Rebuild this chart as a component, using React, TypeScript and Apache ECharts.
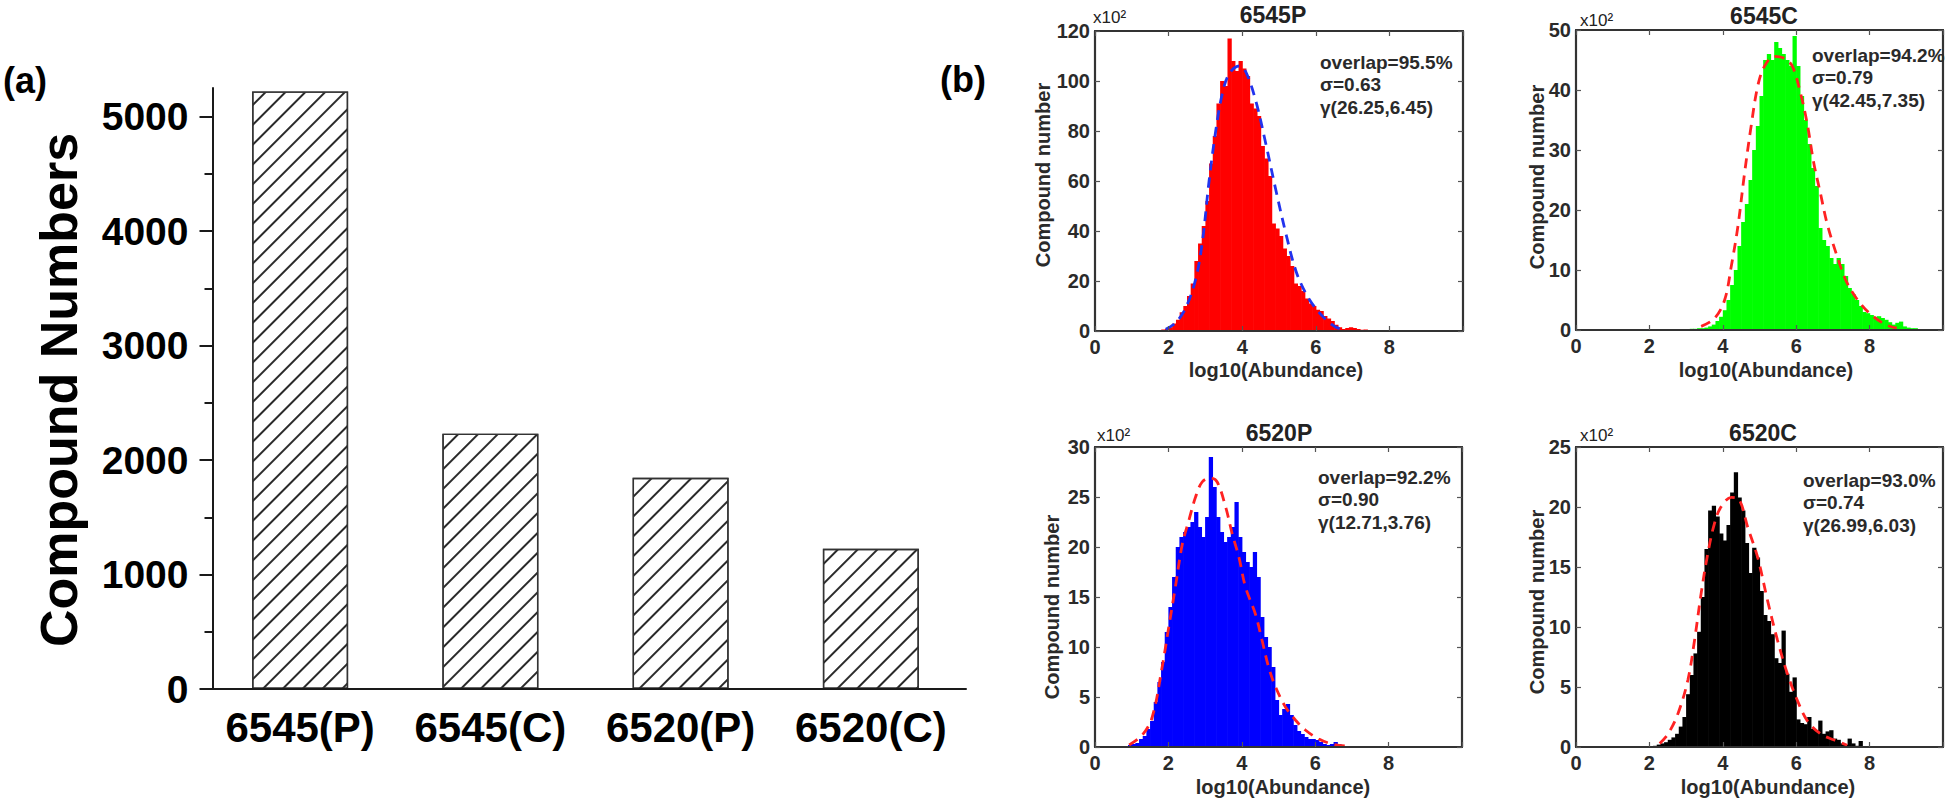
import React, { useEffect, useRef } from 'react';
import * as echarts from 'echarts';

const FONT = '"Liberation Sans", Arial, Helvetica, sans-serif';

// ---------- Panel (a) data ----------
const barCategories = ['6545(P)', '6545(C)', '6520(P)', '6520(C)'];
const barValues = [5220, 2230, 1845, 1225];
const barMajorTicks = [0, 1000, 2000, 3000, 4000, 5000];
const barMinorTicks = [500, 1500, 2500, 3500, 4500];

// ---------- Panel (b) data (counts in units of x10^2, bin width 0.1) ----------
const BIN = 0.1;
const hist6545PStart = 1.7;
const hist6545P = [
  0.3, 0.6, 0.8, 1.5, 3.0, 4.5, 7.5, 10, 14, 19,
  28, 35, 42, 52, 67, 78, 91, 100, 98, 117,
  108, 104, 108, 105, 102, 91, 89, 86, 74, 69,
  62, 43, 41, 38, 33, 30, 26, 19, 18, 16,
  13, 11, 10, 8.5, 8, 6, 5, 4, 2.5, 1.5,
  0.8, 1.2, 1.5, 1.2, 0.8, 0.5, 0.6, 0.3, 0.4, 0.2,
  0, 0.3,
];
const hist6545CStart = 3.1;
const hist6545C = [
  0.2, 0.2, 0.3, 0.3, 0.4, 0.6, 0.9, 1.5, 2.2, 3.3,
  5, 7.5, 10, 14, 18, 21, 25, 30, 34, 39,
  45, 46, 45, 48, 47, 46, 45, 44, 49, 44,
  39, 35, 31, 27, 24, 17, 15, 14, 12, 11,
  12, 11, 9, 7, 6, 5, 4, 3, 2.8, 2.5,
  2.2, 2.3, 2, 1.7, 1.3, 0.9, 1.2, 1.4, 0.6, 0.4,
  0.3, 0.3,
];
const hist6520PStart = 0.8;
const hist6520P = [
  0.1, 0.2, 0.3, 0.4, 0.8, 1.1, 1.8, 2.6, 4.5, 6.5,
  8.5, 11.5, 14, 17, 20, 21, 21.5, 22, 22.5, 23.5,
  22, 21, 23, 29, 26, 23, 21.5, 20.5, 21, 22,
  24.5, 21, 19.5, 18.5, 18, 19.5, 17, 13, 11, 10,
  8, 4.7, 3.2, 3.8, 4.3, 3.2, 2.2, 1.6, 1.3, 1.0,
  0.8, 0.8, 0.7, 0.5, 0.3, 0.2, 0.3, 0.5, 0.3, 0.1,
  0.1,
];
const hist6520CStart = 2.0;
const hist6520C = [
  0.05, 0.1, 0.2, 0.3, 0.4, 0.6, 0.8, 1.1, 1.7, 2.5,
  4.4, 6.0, 7.8, 9.6, 12.5, 16.5, 19.7, 20.1, 19.2, 17.8,
  17.2, 18.5, 21.2, 22.9, 20.8, 19.7, 17, 14.5, 16.6, 15.8,
  13, 11, 10.5, 9.4, 7.4, 7, 9.7, 6.1, 4.6, 5.8,
  2.3, 2.0, 1.9, 2.5, 1.5, 1.4, 2.2, 1.1, 1.3, 1.4,
  0.7, 0.6, 0.3, 0.2, 0.7, 0.3, 0.1, 0.5,
];

// fitted distribution curves
const fit6545P = [
  [1.92, 0.7], [2.19, 3.3], [2.47, 9.4], [2.74, 21], [2.92, 36], [3.1, 60],
  [3.28, 80], [3.46, 95], [3.65, 103], [3.92, 106], [4.1, 103.6], [4.37, 92],
  [4.64, 75], [4.92, 56], [5.19, 38.8], [5.46, 24], [5.73, 15], [6.0, 9],
  [6.28, 4.5], [6.55, 1.5], [6.73, 0.7],
];
const fit6545C = [
  [3.41, 0.6], [3.77, 1.9], [4.05, 5], [4.23, 10.6], [4.41, 17.2], [4.59, 26],
  [4.77, 33.9], [4.95, 40.6], [5.13, 43.9], [5.4, 45.6], [5.67, 45.3], [5.9, 43.9],
  [6.12, 39.4], [6.3, 34.4], [6.48, 27.8], [6.66, 22.8], [6.84, 17.8], [7.12, 12.2],
  [7.39, 7.8], [7.75, 4.4], [8.11, 2.2], [8.47, 0.8], [8.74, 0.3],
];
const fit6520P = [
  [0.93, 0.2], [1.29, 1.2], [1.56, 3], [1.83, 8], [2.01, 12], [2.19, 16],
  [2.38, 20.3], [2.56, 22.7], [2.74, 25], [2.92, 26.5], [3.15, 26.9], [3.33, 26.5],
  [3.56, 24], [3.74, 21.3], [3.92, 19], [4.1, 16], [4.37, 13.3], [4.55, 10.7],
  [4.73, 8], [4.92, 6], [5.19, 4], [5.46, 2.7], [5.73, 1.7], [6.1, 0.8],
  [6.46, 0.3], [6.91, 0.07],
];
const fit6520C = [
  [2.28, 0.3], [2.51, 1.1], [2.78, 2.8], [3.05, 5.6], [3.23, 8.9], [3.41, 12.8],
  [3.59, 16.1], [3.77, 18.6], [3.95, 20], [4.23, 20.8], [4.45, 20.6], [4.68, 18.3],
  [4.95, 15.8], [5.22, 12.2], [5.49, 8.9], [5.76, 6.1], [6.03, 3.9], [6.3, 2.2],
  [6.66, 1.1], [7.02, 0.6], [7.39, 0.15],
];

const panelTitles = ['6545P', '6545C', '6520P', '6520C'];
const histStarts = [hist6545PStart, hist6545CStart, hist6520PStart, hist6520CStart];
const histCounts = [hist6545P, hist6545C, hist6520P, hist6520C];
const fitCurves = [fit6545P, fit6545C, fit6520P, fit6520C];
const yMaxes = [120, 50, 30, 25];
const ySteps = [20, 10, 5, 5];
const xMax = 10;
const xStep = 2;
const statOverlap = ['overlap=95.5%', 'overlap=94.2%', 'overlap=92.2%', 'overlap=93.0%'];
const statSigma = ['σ=0.63', 'σ=0.79', 'σ=0.90', 'σ=0.74'];
const statGamma = ['γ(26.25,6.45)', 'γ(42.45,7.35)', 'γ(12.71,3.76)', 'γ(26.99,6.03)'];

// ---------- styling / layout ----------
const histColors = ['#ff0000', '#00ff00', '#0000ff', '#000000'];
const fitColors = ['#2233ee', '#ff2222', '#ff2222', '#ff2222'];
const boxes = [
  { left: 1095, top: 31, width: 368, height: 300 },
  { left: 1576, top: 30, width: 367, height: 300 },
  { left: 1095, top: 447, width: 367, height: 300 },
  { left: 1576, top: 447, width: 367, height: 300 },
];
const titlePos = [[1273, 15], [1764, 16], [1279, 433], [1763, 433]];
const expPos = [[1093, 17], [1580, 20], [1097, 435], [1580, 435]];
const yNamePos = [[1043, 175], [1537, 177], [1052, 607], [1537, 602]];
const xNamePos = [[1276, 370], [1766, 370], [1283, 787], [1768, 787]];
const statPos = [[1320, 62], [1812, 55], [1318, 477], [1803, 480]];

function buildOption() {
  const grids: any[] = [{ left: 205, top: 88, width: 761, height: 601 }];
  const xAxes: any[] = [
    {
      type: 'category',
      gridIndex: 0,
      data: barCategories,
      axisLine: { lineStyle: { color: '#1a1a1a', width: 2 } },
      axisTick: { show: false },
      axisLabel: { interval: 0, hideOverlap: false, fontFamily: FONT, fontSize: 42, fontWeight: 'bold', color: '#000', margin: 17 },
      splitLine: { show: false },
      z: 5,
    },
  ];
  const yAxes: any[] = [
    {
      type: 'value',
      gridIndex: 0,
      min: 0,
      max: 5250,
      position: 'left',
      offset: -7.5,
      axisLine: { show: true, lineStyle: { color: '#1a1a1a', width: 2 } },
      axisTick: { show: true, customValues: barMajorTicks, length: 13, lineStyle: { color: '#1a1a1a', width: 2 } },
      axisLabel: {
        customValues: barMajorTicks,
        formatter: (v: number) => String(v),
        fontFamily: FONT, fontSize: 39, fontWeight: 'bold', color: '#000', margin: 24,
      },
      splitLine: { show: false },
      z: 5,
    },
    {
      type: 'value',
      gridIndex: 0,
      min: 0,
      max: 5250,
      position: 'left',
      offset: -7.5,
      axisLine: { show: false },
      axisTick: { show: true, customValues: barMinorTicks, length: 8, lineStyle: { color: '#1a1a1a', width: 2 } },
      axisLabel: { show: false },
      splitLine: { show: false },
    },
  ];
  const series: any[] = [
    {
      type: 'bar',
      xAxisIndex: 0,
      yAxisIndex: 0,
      data: barValues,
      barWidth: 96,
      itemStyle: {
        color: '#ffffff',
        borderColor: '#333',
        borderWidth: 1.4,
        decal: {
          symbol: 'rect',
          symbolSize: 1,
          dashArrayX: [1, 0],
          dashArrayY: [1.5, 11.2],
          rotation: -Math.PI / 4,
          color: '#2a2a2a',
        },
      },
    },
  ];
  const graphics: any[] = [
    { type: 'text', x: 3, y: 80, style: { text: '(a)', font: `bold 36px ${FONT}`, fill: '#000', verticalAlign: 'middle', align: 'left' } },
    { type: 'text', x: 940, y: 79, style: { text: '(b)', font: `bold 36px ${FONT}`, fill: '#000', verticalAlign: 'middle', align: 'left' } },
    {
      type: 'text', x: 59, y: 390, rotation: Math.PI / 2,
      style: { text: 'Compound Numbers', font: `bold 52px ${FONT}`, fill: '#000', align: 'center', verticalAlign: 'middle' },
    },
  ];

  const boxLine = { color: '#333', width: 2.2 };
  const tickStyle = { color: '#555', width: 1.2 };
  const labelStyle = { fontFamily: FONT, fontSize: 20, fontWeight: 'bold', color: '#2a2a2a' };

  for (let k = 0; k < 4; k++) {
    const g = k + 1;
    grids.push(boxes[k]);
    const xb = xAxes.length;
    xAxes.push({
      type: 'value', gridIndex: g, min: 0, max: xMax, interval: xStep, position: 'bottom',
      axisLine: { show: true, onZero: false, lineStyle: boxLine },
      axisTick: { show: true, inside: true, length: 5, lineStyle: tickStyle },
      axisLabel: { ...labelStyle, margin: 6, formatter: (v: number) => (v === xMax ? '' : String(v)) },
      splitLine: { show: false }, z: 5,
    });
    xAxes.push({
      type: 'value', gridIndex: g, min: 0, max: xMax, interval: xStep, position: 'top',
      axisLine: { show: true, onZero: false, lineStyle: boxLine },
      axisTick: { show: true, inside: true, length: 5, lineStyle: tickStyle },
      axisLabel: { show: false }, splitLine: { show: false }, z: 5,
    });
    const yl = yAxes.length;
    yAxes.push({
      type: 'value', gridIndex: g, min: 0, max: yMaxes[k], interval: ySteps[k], position: 'left',
      axisLine: { show: true, onZero: false, lineStyle: boxLine },
      axisTick: { show: true, inside: true, length: 5, lineStyle: tickStyle },
      axisLabel: { ...labelStyle, margin: 5 },
      splitLine: { show: false }, z: 5,
    });
    yAxes.push({
      type: 'value', gridIndex: g, min: 0, max: yMaxes[k], interval: ySteps[k], position: 'right',
      axisLine: { show: true, onZero: false, lineStyle: boxLine },
      axisTick: { show: true, inside: true, length: 5, lineStyle: tickStyle },
      axisLabel: { show: false }, splitLine: { show: false }, z: 5,
    });

    const color = histColors[k];
    const data = histCounts[k].map((c, i) => [histStarts[k] + i * BIN, c]);
    series.push({
      type: 'custom',
      xAxisIndex: xb,
      yAxisIndex: yl,
      clip: true,
      encode: { x: 0, y: 1 },
      data,
      renderItem: (_params: any, api: any) => {
        const x = api.value(0);
        const y = api.value(1);
        const a = api.coord([x, 0]);
        const b = api.coord([x + BIN, y]);
        return {
          type: 'rect',
          shape: { x: a[0], y: b[1], width: b[0] - a[0] + 0.6, height: a[1] - b[1] },
          style: { fill: color },
        };
      },
      z: 2,
    });
    series.push({
      type: 'line',
      xAxisIndex: xb,
      yAxisIndex: yl,
      data: fitCurves[k],
      smooth: 0.35,
      symbol: 'none',
      lineStyle: { color: fitColors[k], width: 2.8, type: [10, 7] },
      z: 3,
    });

    graphics.push({
      type: 'text', x: titlePos[k][0], y: titlePos[k][1],
      style: { text: panelTitles[k], font: `bold 23px ${FONT}`, fill: '#222', align: 'center', verticalAlign: 'middle' },
    });
    graphics.push({
      type: 'text', x: expPos[k][0], y: expPos[k][1],
      style: { text: 'x10²', font: `17px ${FONT}`, fill: '#222', align: 'left', verticalAlign: 'middle' },
    });
    graphics.push({
      type: 'text', x: yNamePos[k][0], y: yNamePos[k][1], rotation: Math.PI / 2,
      style: { text: 'Compound number', font: `bold 20px ${FONT}`, fill: '#2a2a2a', align: 'center', verticalAlign: 'middle' },
    });
    graphics.push({
      type: 'text', x: xNamePos[k][0], y: xNamePos[k][1],
      style: { text: 'log10(Abundance)', font: `bold 20px ${FONT}`, fill: '#2a2a2a', align: 'center', verticalAlign: 'middle' },
    });
    const stats = [statOverlap[k], statSigma[k], statGamma[k]];
    stats.forEach((s, i) => {
      graphics.push({
        type: 'text', x: statPos[k][0], y: statPos[k][1] + i * 22.5, z: 10,
        style: { text: s, font: `bold 19px ${FONT}`, fill: '#2a2a2a', align: 'left', verticalAlign: 'middle' },
      });
    });
  }

  return {
    animation: false,
    backgroundColor: '#ffffff',
    grid: grids,
    xAxis: xAxes,
    yAxis: yAxes,
    series,
    graphic: graphics,
  };
}

export default function App() {
  const ref = useRef<HTMLDivElement>(null);
  useEffect(() => {
    if (!ref.current) return;
    const chart = echarts.init(ref.current, undefined, { renderer: 'svg' });
    chart.setOption(buildOption() as any);
    return () => chart.dispose();
  }, []);
  return (
    <div
      ref={ref}
      style={{ position: 'absolute', left: 0, top: 0, width: 1950, height: 802, background: '#fff' }}
    />
  );
}
